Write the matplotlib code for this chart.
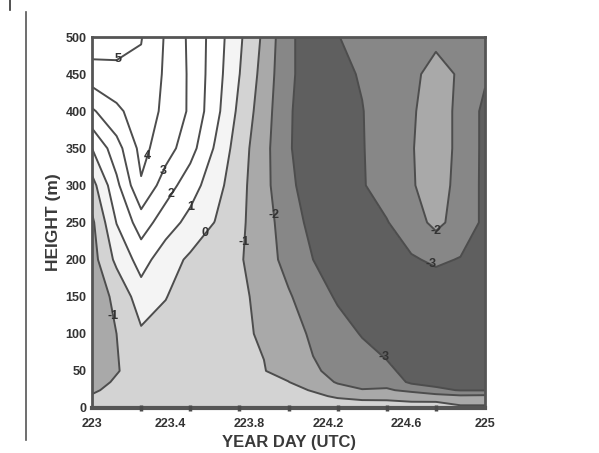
import numpy as np
import matplotlib
matplotlib.use("Agg")
import matplotlib.pyplot as plt
from matplotlib.lines import Line2D
from matplotlib.ticker import MultipleLocator, FixedLocator

plt.rcParams['font.family'] = ['Liberation Sans', 'DejaVu Sans']
plt.rcParams['contour.negative_linestyle'] = 'solid'
plt.rcParams['axes.unicode_minus'] = False

# ---- data -------------------------------------------------------------
days = [223.0, 223.125, 223.25, 223.375, 223.5, 223.625, 223.75, 223.875,
        224.0, 224.125, 224.25, 224.375, 224.5, 224.625, 224.75, 224.875, 225.0]
heights = [0, 8, 16, 24, 35, 50, 100, 150, 200, 250, 300, 350, 400, 450, 500]

h000 = [-0.6, -0.55, -0.5, -0.45, -0.45, -0.45, -0.45, -0.5, -0.5, -0.55, -0.6, -0.6, -0.6, -0.65, -0.7, -0.75, -0.75]
h008 = [-0.8, -0.6, -0.55, -0.5, -0.5, -0.5, -0.55, -0.6, -0.6, -0.7, -0.8, -0.85, -0.85, -0.97, -0.98, -1.3, -1.3]
h016 = [-0.95, -0.7, -0.6, -0.5, -0.5, -0.55, -0.65, -0.7, -0.7, -0.85, -1.1, -1.3, -1.35, -1.5, -1.6, -1.85, -1.8]
h024 = [-1.1, -0.8, -0.65, -0.55, -0.5, -0.6, -0.72, -0.8, -0.8, -1.05, -1.7, -1.95, -1.9, -2.2, -2.8, -3.05, -3.05]
h035 = [-1.3, -0.9, -0.7, -0.55, -0.5, -0.62, -0.8, -0.9, -0.98, -1.6, -2.07, -2.35, -2.3, -3.2, -3.3, -3.3, -3.3]
h050 = [-1.4, -1.05, -0.65, -0.5, -0.45, -0.65, -0.85, -0.97, -1.33, -1.9, -2.2, -2.6, -2.75, -3.4, -3.5, -3.5, -3.45]
h100 = [-1.5, -1.0, -0.15, -0.2, -0.3, -0.6, -0.9, -1.07, -1.61, -2.15, -2.68, -3.05, -3.6, -3.7, -3.75, -3.6, -3.55]
h150 = [-1.5, -0.8, 0.55, 0.02, -0.28, -0.55, -0.82, -1.25, -1.89, -2.6, -3.1, -3.5, -3.6, -3.6, -3.6, -3.5, -3.5]
h200 = [-1.4, 0.24, 1.4, 0.45, -0.17, -0.53, -0.9, -1.53, -2.35, -3.0, -3.5, -3.5, -3.3, -3.1, -2.85, -3.05, -3.4]
h250 = [-1.2, 1.03, 2.5, 1.47, 0.69, -0.02, -0.79, -1.61, -2.5, -3.3, -3.35, -3.2, -3.05, -2.45, -1.75, -2.4, -3.2]
h300 = [-0.375, 1.75, 3.9, 2.48, 1.45, 0.41, -0.68, -1.7, -2.8, -3.45, -3.3, -3.07, -2.6, -2.07, -1.65, -2.25, -3.25]
h350 = [1.0, 2.6, 4.3, 3.45, 2.38, 0.91, -0.53, -1.69, -2.92, -3.5, -3.3, -3.05, -2.55, -2.05, -1.6, -2.2, -3.25]
h400 = [2.85, 3.8, 4.5, 3.8, 2.85, 1.35, -0.24, -1.55, -2.9, -3.5, -3.3, -3.03, -2.56, -2.1, -1.6, -2.2, -3.25]
h450 = [4.6, 4.7, 4.8, 3.85, 2.85, 1.48, 0.02, -1.38, -2.85, -3.4, -3.2, -2.93, -2.5, -2.2, -1.7, -2.1, -2.85]
h500 = [5.6, 5.5, 5.05, 3.9, 2.8, 1.56, 0.17, -1.2, -2.85, -3.4, -3.02, -2.8, -2.6, -2.5, -2.2, -2.5, -2.7]

fill_levels = [-6, -3, -2, -1, 0, 1, 7]
line_levels = [-3, -2, -1, 0, 1, 2, 3, 4, 5]
x_tick_labels = ['223', '223.4', '223.8', '224.2', '224.6', '225']
y_tick_values = [0, 50, 100, 150, 200, 250, 300, 350, 400, 450, 500]

# ---- figure -----------------------------------------------------------
Z = np.array([h000, h008, h016, h024, h035, h050, h100, h150, h200,
              h250, h300, h350, h400, h450, h500])
X, Y = np.meshgrid(days, heights)

fig = plt.figure(figsize=(5.99, 4.53), dpi=100)
ax = fig.add_axes([92/599, 45/453, 393/599, 371/453])

fill_colors = ['#5f5f5f', '#878787', '#a9a9a9', '#d3d3d3', '#f4f4f4', '#ffffff']
ax.contourf(X, Y, Z, levels=fill_levels, colors=fill_colors)
cs = ax.contour(X, Y, Z, levels=line_levels, colors='#4d4d4d', linewidths=1.4)

label_spots = [(223.13, 472), (223.31, 337), (223.38, 318), (223.41, 287),
               (223.5, 271), (223.58, 235), (223.78, 224), (223.11, 124),
               (223.91, 260), (224.76, 232), (224.74, 202), (224.48, 67)]
ax.clabel(cs, fmt=lambda v: '%d' % round(v), fontsize=9, colors='#333333',
          inline=False, manual=label_spots)
for t in cs.labelTexts:
    t.set_fontweight('bold')
    t.set_rotation(0)

ax.set_xlim(223, 225)
ax.set_ylim(0, 500)

ax.xaxis.set_major_locator(FixedLocator([223.0, 223.4, 223.8, 224.2, 224.6, 225.0]))
ax.set_xticklabels(x_tick_labels)
ax.xaxis.set_minor_locator(MultipleLocator(0.25))
ax.set_yticks(y_tick_values)
ax.set_yticklabels([str(v) for v in y_tick_values])

ax.tick_params(axis='x', which='major', length=0, pad=7, labelsize=9,
               labelcolor='#333333')
ax.tick_params(axis='x', which='minor', length=4, width=2.5,
               direction='inout', color='#4a4a4a')
ax.tick_params(axis='y', which='major', length=0, pad=4, labelsize=9,
               labelcolor='#333333')
for lab in ax.get_xticklabels() + ax.get_yticklabels():
    lab.set_fontweight('bold')

for side, sp in ax.spines.items():
    sp.set_color('#555555')
    sp.set_linewidth(2.0)
ax.spines['bottom'].set_linewidth(3.0)
ax.set_axisbelow(False)

ax.set_xlabel('YEAR DAY (UTC)', fontsize=12, fontweight='bold',
              color='#3a3a3a', labelpad=4)
ax.set_ylabel('HEIGHT (m)', fontsize=12.5, fontweight='bold',
              color='#3a3a3a', labelpad=3)

fig.add_artist(Line2D([26/599, 26/599], [1 - 12/453, 1 - 440/453],
                      transform=fig.transFigure, color='#555555', lw=1.2))
fig.add_artist(Line2D([9.5/599, 9.5/599], [1.0, 1 - 10/453],
                      transform=fig.transFigure, color='#333333', lw=1.2))

fig.savefig('out.png', dpi=100)
